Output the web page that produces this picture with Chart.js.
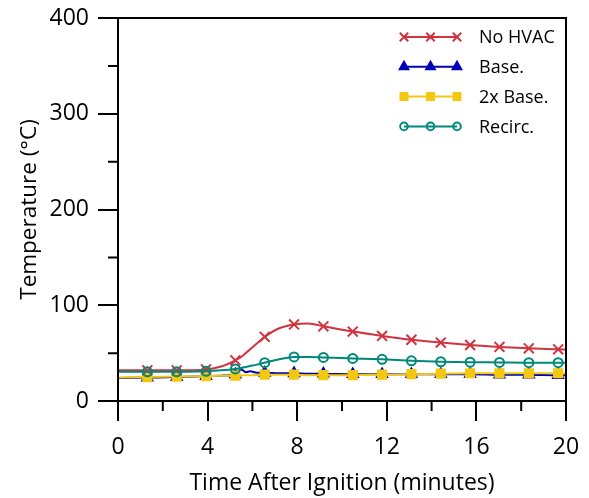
<!DOCTYPE html>
<html>
<head>
<meta charset="utf-8">
<script src="https://cdn.jsdelivr.net/npm/chart.js@4/dist/chart.umd.min.js"></script>
<style>
  html, body { margin: 0; padding: 0; background: #fff; }
  #wrap { width: 589px; height: 498px; }
</style>
</head>
<body>
<div id="wrap"><canvas id="myChart" width="589" height="498"></canvas></div>
<script>
// time (minutes)
const times = [0, 1.31, 2.62, 3.93, 4.6, 5.24, 5.5, 5.7, 5.9, 6.2, 6.55, 7.2, 7.86, 8.5, 9.17, 10.48, 11.79, 13.1, 14.41, 15.72, 17.03, 18.34, 19.65, 20];
// times where a marker is drawn
const markerTimes = [1.31, 2.62, 3.93, 5.24, 6.55, 7.86, 9.17, 10.48, 11.79, 13.1, 14.41, 15.72, 17.03, 18.34, 19.65];

const noHvac = [32, 32, 32, 33, 36, 42.5, 46, 50, 54, 60, 67, 76, 80, 81, 78, 72.5, 68, 64, 61, 58.5, 56.5, 55, 54, 53.5];
const base = [24, 24.5, 25, 26, 26.5, 27.5, 33, 30, 31, 29.5, 29.5, 29, 29, 28.5, 28.5, 28, 28, 28, 28, 28, 27.5, 27.5, 27, 27];
const base2x = [24.5, 25, 25.5, 26, 26.3, 26.5, 26.7, 27, 27, 27.2, 27.5, 27.5, 27.5, 27, 27, 27, 27.5, 28, 28.5, 29, 29, 29, 29, 29];
const recirc = [30.5, 30.5, 30.5, 31, 32, 33.5, 34.5, 35.5, 36.5, 38, 40, 43.5, 46, 46, 45.5, 44.5, 43.5, 42, 41, 40.5, 40.3, 40, 40, 40];

const xTicks = [0, 4, 8, 12, 16, 20];
const xMinorTicks = [2, 6, 10, 14, 18];
const yTicks = [0, 100, 200, 300, 400];
const yMinorTicks = [50, 150, 250, 350];

const seriesNames = ['No HVAC', 'Base.', '2x Base.', 'Recirc.'];
const seriesColors = ['#d1343e', '#0000b4', '#f2c811', '#00897a'];
const seriesStyles = ['crossRot', 'triangle', 'rect', 'circle'];
const seriesRadius = [7, 5.8, 5.8, 4.5];

function toPoints(values) {
    return times.map((t, i) => ({ x: t, y: values[i] }));
}

function makeDataset(idx, values) {
    return {
        label: seriesNames[idx],
        data: toPoints(values),
        borderColor: seriesColors[idx],
        backgroundColor: seriesColors[idx],
        borderWidth: 2,
        cubicInterpolationMode: 'monotone',
        pointStyle: seriesStyles[idx],
        pointRadius: ctx => markerTimes.includes(times[ctx.dataIndex]) ? seriesRadius[idx] : 0,
        pointBorderWidth: 2,
        pointBackgroundColor: idx == 3 ? 'rgba(0,0,0,0)' : seriesColors[idx],
        pointBorderColor: seriesColors[idx]
    };
}

// draw order: first dataset is on top
const datasets = [
    makeDataset(3, recirc),
    makeDataset(0, noHvac),
    makeDataset(2, base2x),
    makeDataset(1, base)
];

const framePlugin = {
    id: 'frame',
    afterDraw(chart) {
        const ctx = chart.ctx;
        const a = chart.chartArea;
        const xs = chart.scales.x;
        const ys = chart.scales.y;
        ctx.save();
        ctx.strokeStyle = '#000';
        ctx.lineWidth = 2;
        ctx.strokeRect(a.left, a.top, a.right - a.left, a.bottom - a.top);
        ctx.beginPath();
        xMinorTicks.forEach(v => {
            const px = xs.getPixelForValue(v);
            ctx.moveTo(px, a.bottom);
            ctx.lineTo(px, a.bottom + 10);
        });
        yMinorTicks.forEach(v => {
            const py = ys.getPixelForValue(v);
            ctx.moveTo(a.left, py);
            ctx.lineTo(a.left - 10, py);
        });
        ctx.stroke();

        // legend
        const order = [0, 1, 2, 3];
        ctx.font = '18px "Open Sans"';
        ctx.textBaseline = 'middle';
        ctx.fillStyle = '#000';
        order.forEach((idx, row) => {
            const y = 37 + row * 29.8;
            ctx.strokeStyle = seriesColors[idx];
            ctx.lineWidth = 2;
            ctx.beginPath();
            ctx.moveTo(404, y);
            ctx.lineTo(457, y);
            ctx.stroke();
            [404, 430.5, 457].forEach(mx => {
                ctx.fillStyle = idx == 3 ? 'rgba(0,0,0,0)' : seriesColors[idx];
                Chart.helpers.drawPoint(ctx, {
                    pointStyle: seriesStyles[idx],
                    radius: idx == 3 ? 3.8 : seriesRadius[idx] * 0.85,
                    borderWidth: 2,
                    rotation: 0
                }, mx, y);
            });
            ctx.fillStyle = '#000';
            ctx.fillText(seriesNames[idx], 479, y + 1);
        });
        ctx.restore();
    }
};

const ctx = document.getElementById('myChart').getContext('2d');
const myChart = new Chart(ctx, {
    type: 'line',
    data: { datasets: datasets },
    options: {
        responsive: false,
        animation: false,
        events: [],
        layout: { padding: { top: 18, right: 23, left: 0, bottom: 0 } },
        plugins: {
            legend: { display: false },
            tooltip: { enabled: false }
        },
        scales: {
            x: {
                type: 'linear',
                min: 0,
                max: 20,
                afterBuildTicks: scale => { scale.ticks = xTicks.map(v => ({ value: v })); },
                afterFit: scale => { scale.height = 97; scale.paddingRight = 0; scale.paddingLeft = 0; },
                grid: { drawOnChartArea: false, drawTicks: true, tickLength: 20, lineWidth: 2, color: '#000' },
                border: { display: false },
                ticks: { color: '#000', font: { family: 'Open Sans', size: 23 }, padding: 13, maxRotation: 0 },
                title: {
                    display: true,
                    text: 'Time After Ignition (minutes)',
                    color: '#000',
                    font: { family: 'Open Sans', size: 23 },
                    padding: { top: 0, bottom: 1 }
                }
            },
            y: {
                min: 0,
                max: 400,
                afterBuildTicks: scale => { scale.ticks = yTicks.map(v => ({ value: v })); },
                afterFit: scale => { scale.width = 118; scale.paddingTop = 0; scale.paddingBottom = 0; },
                grid: { drawOnChartArea: false, drawTicks: true, tickLength: 20, lineWidth: 2, color: '#000' },
                border: { display: false },
                ticks: { color: '#000', font: { family: 'Open Sans', size: 23 }, padding: 9 },
                title: {
                    display: true,
                    text: 'Temperature (°C)',
                    color: '#000',
                    font: { family: 'Open Sans', size: 22.5 },
                    padding: { top: 16, bottom: 0 }
                }
            }
        }
    },
    plugins: [framePlugin]
});
</script>
</body>
</html>
